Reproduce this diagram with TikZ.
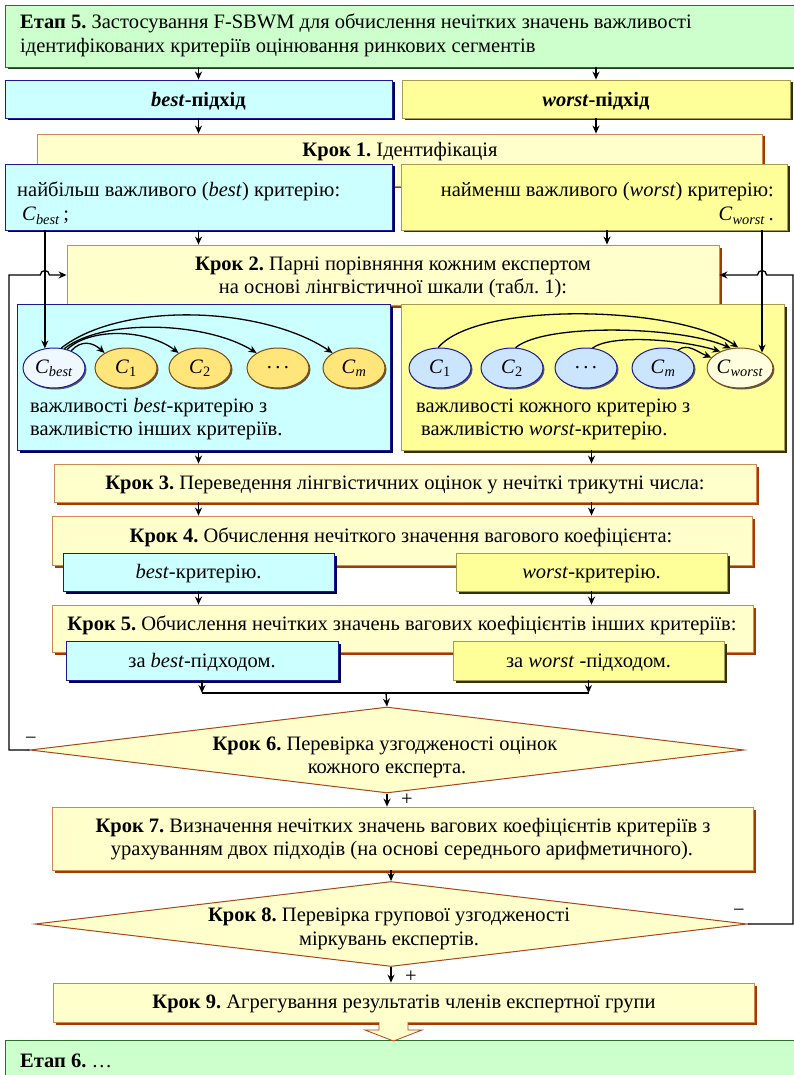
\documentclass[tikz,border=0pt]{standalone}
\usepackage{fontspec}
\setmainfont{Liberation Serif}
\frenchspacing
\usetikzlibrary{arrows.meta,shapes.geometric,shadows,calc}
\definecolor{gfill}{HTML}{CCFFCC}
\definecolor{gdraw}{HTML}{2E6B2E}
\definecolor{gshad}{HTML}{1A3D1A}
\definecolor{cfill}{HTML}{CCFFFF}
\definecolor{cdraw}{HTML}{1A1A99}
\definecolor{cshad}{HTML}{000050}
\definecolor{yfill}{HTML}{FFFF99}
\definecolor{ydraw}{HTML}{A89A50}
\definecolor{yshad}{HTML}{2F3300}
\definecolor{kfill}{HTML}{FFFFCC}
\definecolor{kdraw}{HTML}{CC8A55}
\definecolor{kshad}{HTML}{A33A00}
\definecolor{efill}{HTML}{FFE57A}
\definecolor{edraw}{HTML}{7A4A10}
\definecolor{bfill}{HTML}{CCE5FF}
\definecolor{wfill}{HTML}{FFFFE0}
\definecolor{cbfill}{HTML}{F0F8FF}
\definecolor{dfill}{HTML}{FFFFCC}
\definecolor{ddraw}{HTML}{A8461A}
\newcommand\mybox[6]{\node[#1, minimum width={#5-#3}, minimum height={#6-#4}] (#2) at ({(#3+#5)/2},{-(#4+#6)/2}) {};}
\tikzset{
  base/.style={rectangle, inner sep=0pt, line width=0.8pt},
  greenbox/.style={base, draw=gdraw, fill=gfill, drop shadow={shadow xshift=2.5pt,shadow yshift=-2.5pt,fill=gshad,opacity=1}},
  cyanbox/.style={base, draw=cdraw, fill=cfill, drop shadow={shadow xshift=2.5pt,shadow yshift=-2.5pt,fill=cshad,opacity=1}},
  yelbox/.style={base, draw=ydraw, fill=yfill, drop shadow={shadow xshift=2.5pt,shadow yshift=-2.5pt,fill=yshad,opacity=1}},
  krokbox/.style={base, draw=kdraw, fill=kfill, drop shadow={shadow xshift=2.5pt,shadow yshift=-2.5pt,fill=kshad,opacity=1}},
  dia/.style={diamond, inner sep=0pt, draw=ddraw, fill=dfill, line width=1pt},
  txt/.style={font=\fontsize{20.5}{24}\selectfont, inner sep=0pt},
  ell/.style={ellipse, minimum width=62pt, minimum height=40pt, inner sep=0pt, line width=1pt, font=\fontsize{20.5}{24}\selectfont,
    drop shadow={shadow xshift=1.5pt,shadow yshift=-1.5pt,fill=black!65,opacity=1}},
  yell/.style={ell, draw=edraw, fill=efill},
  bell/.style={ell, draw=cdraw, fill=bfill},
  arr/.style={-{Stealth[length=8pt,width=7pt]}, line width=1.3pt},
  ln/.style={line width=1.3pt},
  sign/.style={font=\fontsize{20.5}{24}\selectfont, inner sep=0pt},
}
\begin{document}
\begin{tikzpicture}[x=1pt,y=1pt]
\useasboundingbox (0,0) rectangle (794,-1075);
% boxes
\mybox{greenbox}{etap5}{5}{5}{800}{67}
\mybox{cyanbox}{best}{5}{80}{392}{118}
\mybox{yelbox}{worst}{402}{80}{790}{118}
\mybox{krokbox}{krok1}{37}{134}{762}{186}
\mybox{cyanbox}{bestid}{5}{164}{392}{230}
\mybox{yelbox}{worstid}{401}{164}{787}{230}
\mybox{krokbox}{krok2}{67}{245}{719}{305}
\mybox{cyanbox}{bestp}{17}{304}{390}{450}
\mybox{yelbox}{worstp}{401}{304}{784}{450}
\mybox{krokbox}{krok3}{54}{464}{756}{502}
\mybox{krokbox}{krok4}{52}{516}{752}{565}
\mybox{cyanbox}{b4}{63}{553}{334}{591}
\mybox{yelbox}{w4}{456}{553}{727}{591}
\mybox{krokbox}{krok5}{52}{605}{753}{652}
\mybox{cyanbox}{b5}{66}{641}{338}{680}
\mybox{yelbox}{w5}{453}{641}{724}{680}
\node[dia, minimum width=714pt, minimum height=86pt] (d6) at (387,-750) {};
\mybox{krokbox}{krok7}{52}{807}{753}{870}
\node[dia, minimum width=712pt, minimum height=85pt] (d8) at (391,-924) {};
\mybox{krokbox}{krok9}{53}{983}{754}{1022}
\mybox{greenbox}{etap6}{5}{1040}{800}{1090}
% texts
\node[txt, anchor=base west] (t5a) at (20,-29) {\textbf{Етап 5.} Застосування F-SBWM для обчислення нечітких значень важливості};
\node[txt, anchor=base west] (t5b) at (20,-53) {ідентифікованих критеріїв оцінювання ринкових сегментів};
\node[txt, anchor=base] (tbest) at (198.5,-107) {\textbf{\textit{best}-підхід}};
\node[txt, anchor=base] (tworst) at (596,-107) {\textbf{\textit{worst}-підхід}};
\node[txt, anchor=base] (tk1) at (400,-157) {\textbf{Крок 1.} Ідентифікація};
\node[txt, anchor=base west] (tbi1) at (17,-197) {найбільш важливого (\textit{best}) критерію:};
\node[txt, anchor=base west] (tbi2) at (22,-221) {\textit{C}\textsubscript{\textit{best}}\,;};
\node[txt, anchor=base east] (twi1) at (774,-197) {найменш важливого (\textit{worst}) критерію:};
\node[txt, anchor=base east] (twi2) at (774,-221) {\textit{C}\textsubscript{\textit{worst}}\,.};
\node[txt, anchor=base] (tk2a) at (393,-270) {\textbf{Крок 2.} Парні порівняння кожним експертом};
\node[txt, anchor=base] (tk2b) at (393,-293) {на основі лінгвістичної шкали (табл. 1):};
\node[txt, anchor=base west] (tbp1) at (30,-412) {важливості \textit{best}-критерію з};
\node[txt, anchor=base west] (tbp2) at (30,-435) {важливістю інших критеріїв.};
\node[txt, anchor=base west] (twp1) at (416,-412) {важливості кожного критерію з};
\node[txt, anchor=base west] (twp2) at (421,-435) {важливістю \textit{worst}-критерію.};
\node[txt, anchor=base] (tk3) at (405,-489) {\textbf{Крок 3.} Переведення лінгвістичних оцінок у нечіткі трикутні числа:};
\node[txt, anchor=base] (tk4) at (401,-542) {\textbf{Крок 4.} Обчислення нечіткого значення вагового коефіцієнта:};
\node[txt, anchor=base] (tb4) at (198.5,-578) {\textit{best}-критерію.};
\node[txt, anchor=base] (tw4) at (591.5,-578) {\textit{worst}-критерію.};
\node[txt, anchor=base] (tk5) at (402,-630) {\textbf{Крок 5.} Обчислення нечітких значень вагових коефіцієнтів інших критеріїв:};
\node[txt, anchor=base] (tb5) at (202,-667) {за \textit{best}-підходом.};
\node[txt, anchor=base] (tw5) at (588.5,-667) {за \textit{worst} -підходом.};
\node[txt, anchor=base] (tk6a) at (385,-750) {\textbf{Крок 6.} Перевірка узгодженості оцінок};
\node[txt, anchor=base] (tk6b) at (387,-773) {кожного експерта.};
\node[txt, anchor=base] (tk7a) at (403,-832) {\textbf{Крок 7.} Визначення нечітких значень вагових коефіцієнтів критеріїв з};
\node[txt, anchor=base] (tk7b) at (402,-855) {урахуванням двох підходів (на основі середнього арифметичного).};
\node[txt, anchor=base] (tk8a) at (389,-921) {\textbf{Крок 8.} Перевірка групової узгодженості};
\node[txt, anchor=base] (tk8b) at (389,-945) {міркувань експертів.};
\node[txt, anchor=base] (tk9) at (404,-1008) {\textbf{Крок 9.} Агрегування результатів членів експертної групи};
\node[txt, anchor=base west] (te6) at (20,-1067) {\textbf{Етап 6.} …};
% ellipses
\node[ell, draw=cdraw, fill=cbfill] (cbest) at (54,-368) {\textit{C}\textsubscript{\textit{best}}};
\node[yell] (c1) at (126,-368) {\textit{C}\textsubscript{1}};
\node[yell] (c2) at (200,-368) {\textit{C}\textsubscript{2}};
\node[yell] (cd) at (278,-368) {.\,.\,.};
\node[yell] (cm) at (354,-368) {\textit{C}\textsubscript{\textit{m}}};
\node[bell] (wc1) at (440,-368) {\textit{C}\textsubscript{1}};
\node[bell] (wc2) at (512,-368) {\textit{C}\textsubscript{2}};
\node[bell] (wcd) at (586,-368) {.\,.\,.};
\node[bell] (wcm) at (663,-368) {\textit{C}\textsubscript{\textit{m}}};
\node[ell, draw=edraw, fill=wfill] (cworst) at (740,-368) {\textit{C}\textsubscript{\textit{worst}}};
% best arcs
\draw[arr] (cbest.45) .. controls +(10,11) and +(-12,11) .. (c1.145);
\draw[arr] (cbest.55) .. controls +(25,23) and +(-30,23) .. (c2.145);
\draw[arr] (cbest.62) .. controls +(40,31) and +(-50,31) .. (cd.145);
\draw[arr] (cbest.70) .. controls +(60,47) and +(-70,47) .. (cm.145);
% worst arcs
\draw[arr] (wc1.95) .. controls +(40,47) and +(-60,42) .. (cworst.95);
\draw[arr] (wc2.80) .. controls +(30,25) and +(-50,22) .. (cworst.115);
\draw[arr] (wcd.72) .. controls +(20,14) and +(-40,12) .. (cworst.140);
\draw[arr] (wcm.50) .. controls +(10,7) and +(-15,6) .. (cworst.160);
% main flow
\draw[arr] (etap5.south -| best) -- (best);
\draw[arr] (etap5.south -| worst) -- (worst);
\draw[arr] (best.south) -- (krok1.north -| best);
\draw[arr] (worst.south) -- (krok1.north -| worst);
\draw[arr] (bestid.south) -- (krok2.north -| bestid);
\draw[arr] ($(worstid.south)+(13,0)$) -- ($(krok2.north -| worstid)+(13,0)$);
\draw[arr] (cbest.115 |- bestid.south) -- (cbest.115);
\draw[arr] (cworst.35 |- worstid.south) -- (cworst.35);
\draw[arr] (bestp.south -| b4) -- (krok3.north -| b4);
\draw[arr] (worstp.south -| w4) -- (krok3.north -| w4);
\draw[arr] (krok3.south -| b4) -- (krok4.north -| b4);
\draw[arr] (krok3.south -| w4) -- (krok4.north -| w4);
\draw[arr] (b4.south) -- (krok5.north -| b4);
\draw[arr] (w4.south) -- (krok5.north -| w4);
\coordinate (m) at (386,-693);
\draw[arr] (b5.south) -- (b5.south |- m);
\draw[arr] (w5.south) -- (w5.south |- m);
\draw[ln] (b5.south |- m) -- (w5.south |- m);
\draw[arr] (m) -- (d6.north);
\draw[arr] (d6.south) -- (d6.south |- krok7.north);
\draw[arr] (d8.north |- krok7.south) -- (d8.north);
\draw[arr] (d8.south) -- (d8.south |- krok9.north);
% feedback loops
\coordinate (lx) at (9,0);
\coordinate (rx) at (793,0);
\coordinate (hl) at (cbest.115 |- krok2.west);
\coordinate (hr) at (cworst.35 |- krok2.east);
\draw[arr] (d6.west) -- (d6.west -| lx) -- (krok2.west -| lx) -- ($(hl)+(-4.5,0)$) arc[start angle=180,end angle=0,radius=4.5] -- (krok2.west);
\draw[arr] (d8.east) -- (d8.east -| rx) -- (krok2.east -| rx) -- ($(hr)+(4.5,0)$) arc[start angle=0,end angle=180,radius=4.5] -- (krok2.east);
\node[sign] (s6m) at (31,-741) {−};
\node[sign] (s6p) at (407,-800) {+};
\node[sign] (s8m) at (739,-913) {−};
\node[sign] (s8p) at (411,-977) {+};
% block arrow
\coordinate (ba) at (393.5,-1022);
\draw[draw=ddraw, fill=kfill, line width=0.8pt] ($(ba)+(-14.5,0)$) -- ($(ba)+(-14.5,-8)$) -- ($(ba)+(-28.5,-8)$) -- ($(ba)+(0,-19)$) -- ($(ba)+(28.5,-8)$) -- ($(ba)+(14.5,-8)$) -- ($(ba)+(14.5,0)$);
\end{tikzpicture}
\end{document}
